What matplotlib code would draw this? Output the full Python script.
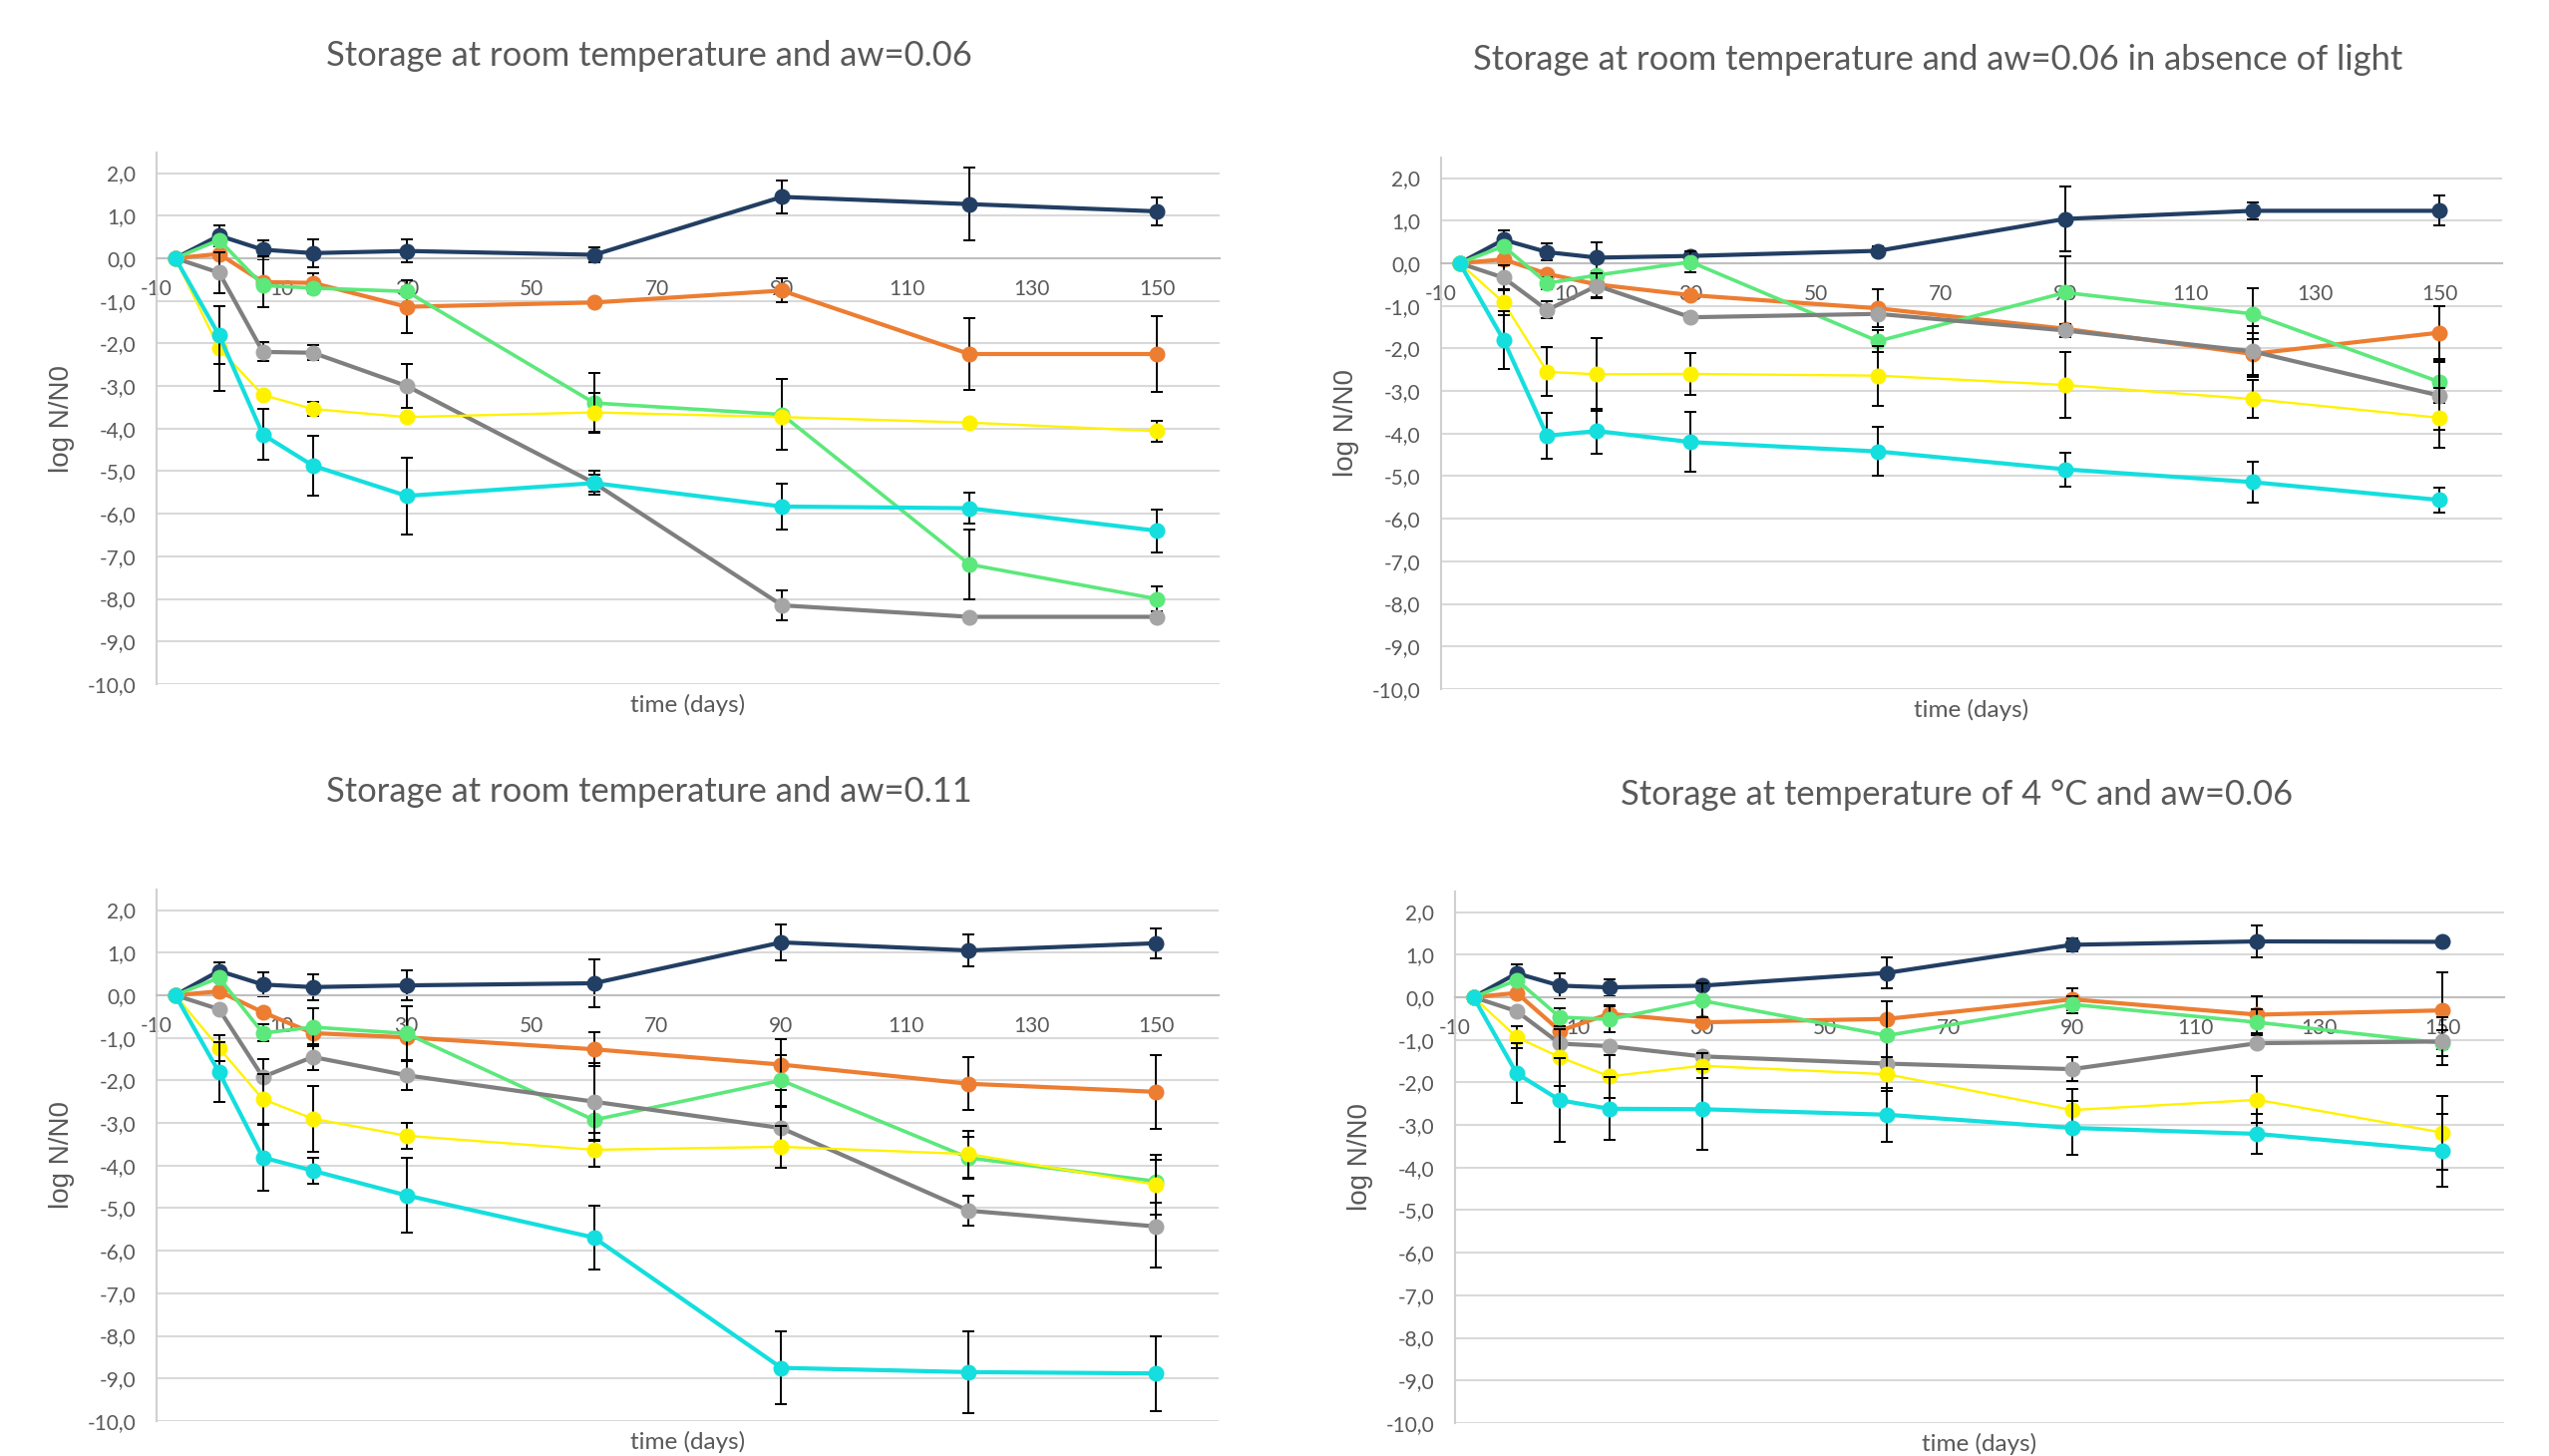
import numpy as np
import matplotlib.pyplot as plt

plt.rcParams['font.family'] = ['Lato', 'DejaVu Sans']

# sampling days (first point is the reference before storage)
days = [-7, 0, 7, 15, 30, 60, 90, 120, 150]

titles = [
    "Storage at room temperature and aw=0.06",
    "Storage at room temperature and aw=0.06 in absence of light",
    "Storage at room temperature and aw=0.11",
    "Storage at temperature of 4 \u00b0C and aw=0.06",
]

# panel 1: room temperature, aw=0.06
p1_navy = [0, 0.53, 0.20, 0.12, 0.17, 0.08, 1.44, 1.27, 1.10]
p1_navy_err = [0, 0.24, 0.22, 0.33, 0.27, 0.18, 0.38, 0.86, 0.33]
p1_orange = [0, 0.10, -0.56, -0.58, -1.14, -1.04, -0.76, -2.25, -2.25]
p1_orange_err = [0, 0, 0.60, 0.23, 0.62, 0.05, 0.28, 0.85, 0.90]
p1_green = [0, 0.43, -0.64, -0.70, -0.78, -3.40, -3.67, -7.19, -8.00]
p1_green_err = [0, 0, 0, 0, 0, 0.70, 0.83, 0.83, 0.30]
p1_grey = [0, -0.34, -2.20, -2.22, -3.00, -5.28, -8.15, -8.42, -8.42]
p1_grey_err = [0, 0.48, 0.22, 0.17, 0.52, 0.28, 0.35, 0, 0]
p1_yellow = [0, -2.12, -3.21, -3.54, -3.73, -3.62, -3.73, -3.86, -4.06]
p1_yellow_err = [0, 1.00, 0, 0.17, 0, 0.46, 0, 0, 0.24]
p1_cyan = [0, -1.81, -4.14, -4.87, -5.58, -5.28, -5.83, -5.87, -6.40]
p1_cyan_err = [0, 0.68, 0.60, 0.70, 0.90, 0.20, 0.54, 0.37, 0.50]

# panel 2: room temperature, aw=0.06, dark
p2_navy = [0, 0.55, 0.26, 0.13, 0.17, 0.29, 1.04, 1.23, 1.23]
p2_navy_err = [0, 0.23, 0.20, 0.35, 0.10, 0.10, 0.77, 0.20, 0.35]
p2_orange = [0, 0.09, -0.25, -0.50, -0.75, -1.06, -1.54, -2.13, -1.63]
p2_orange_err = [0, 0, 0, 0.30, 0, 0.45, 0, 0.50, 0.62]
p2_green = [0, 0.40, -0.47, -0.28, 0.03, -1.83, -0.69, -1.19, -2.79]
p2_green_err = [0, 0, 0.15, 0, 0.25, 0.25, 0.85, 0.60, 0.50]
p2_grey = [0, -0.34, -1.10, -0.53, -1.27, -1.19, -1.58, -2.07, -3.11]
p2_grey_err = [0, 0.30, 0.20, 0.30, 0.10, 0, 0.15, 0.60, 0.80]
p2_yellow = [0, -0.92, -2.55, -2.61, -2.60, -2.64, -2.86, -3.19, -3.63]
p2_yellow_err = [0, 0.30, 0.57, 0.85, 0.50, 0.70, 0.78, 0.45, 0.70]
p2_cyan = [0, -1.80, -4.05, -3.94, -4.20, -4.42, -4.84, -5.14, -5.56]
p2_cyan_err = [0, 0.68, 0.53, 0.53, 0.70, 0.57, 0.40, 0.48, 0.30]

# panel 3: room temperature, aw=0.11
p3_navy = [0, 0.57, 0.25, 0.19, 0.23, 0.28, 1.24, 1.05, 1.22]
p3_navy_err = [0, 0.20, 0.28, 0.30, 0.35, 0.56, 0.43, 0.37, 0.35]
p3_orange = [0, 0.09, -0.40, -0.89, -0.99, -1.27, -1.63, -2.08, -2.27]
p3_orange_err = [0, 0, 0, 0, 0, 0.40, 0.60, 0.62, 0.86]
p3_green = [0, 0.41, -0.89, -0.75, -0.90, -2.93, -2.00, -3.82, -4.37]
p3_green_err = [0, 0, 0.20, 0.45, 0.65, 0.50, 0.60, 0.50, 0.50]
p3_grey = [0, -0.33, -1.92, -1.45, -1.88, -2.50, -3.12, -5.06, -5.43]
p3_grey_err = [0, 0, 0.43, 0.30, 0.35, 0.90, 0.50, 0.35, 0.97]
p3_yellow = [0, -1.24, -2.44, -2.90, -3.30, -3.63, -3.56, -3.73, -4.45]
p3_yellow_err = [0, 0.30, 0.60, 0.77, 0.30, 0.40, 0.50, 0.55, 0.70]
p3_cyan = [0, -1.81, -3.81, -4.12, -4.70, -5.69, -8.75, -8.85, -8.88]
p3_cyan_err = [0, 0.70, 0.78, 0.30, 0.88, 0.75, 0.85, 0.96, 0.88]

# panel 4: 4 degC, aw=0.06
p4_navy = [0, 0.56, 0.27, 0.23, 0.27, 0.57, 1.23, 1.31, 1.30]
p4_navy_err = [0, 0.20, 0.30, 0.20, 0.10, 0.36, 0.15, 0.37, 0.05]
p4_orange = [0, 0.10, -0.79, -0.39, -0.59, -0.51, -0.05, -0.41, -0.31]
p4_orange_err = [0, 0, 0, 0.20, 0, 0, 0.25, 0.43, 0.90]
p4_green = [0, 0.40, -0.47, -0.52, -0.08, -0.90, -0.17, -0.59, -1.08]
p4_green_err = [0, 0, 0.20, 0.30, 0.40, 0.80, 0.20, 0.30, 0.30]
p4_grey = [0, -0.33, -1.09, -1.15, -1.39, -1.56, -1.69, -1.08, -1.04]
p4_grey_err = [0, 0, 0, 0, 0, 0, 0.28, 0, 0.56]
p4_yellow = [0, -0.94, -1.41, -1.86, -1.61, -1.81, -2.65, -2.41, -3.18]
p4_yellow_err = [0, 0.25, 0.67, 0.50, 0.30, 0.40, 0.50, 0.55, 0.87]
p4_cyan = [0, -1.79, -2.42, -2.62, -2.63, -2.76, -3.07, -3.21, -3.60]
p4_cyan_err = [0, 0.70, 0.98, 0.74, 0.95, 0.63, 0.64, 0.46, 0.85]

panels = [
    [(p1_navy, p1_navy_err), (p1_orange, p1_orange_err), (p1_green, p1_green_err),
     (p1_grey, p1_grey_err), (p1_yellow, p1_yellow_err), (p1_cyan, p1_cyan_err)],
    [(p2_navy, p2_navy_err), (p2_orange, p2_orange_err), (p2_green, p2_green_err),
     (p2_grey, p2_grey_err), (p2_yellow, p2_yellow_err), (p2_cyan, p2_cyan_err)],
    [(p3_navy, p3_navy_err), (p3_orange, p3_orange_err), (p3_green, p3_green_err),
     (p3_grey, p3_grey_err), (p3_yellow, p3_yellow_err), (p3_cyan, p3_cyan_err)],
    [(p4_navy, p4_navy_err), (p4_orange, p4_orange_err), (p4_green, p4_green_err),
     (p4_grey, p4_grey_err), (p4_yellow, p4_yellow_err), (p4_cyan, p4_cyan_err)],
]

# style per series: line colour, marker colour, line width
line_colors = ['#223E63', '#ED7D31', '#5CE87B', '#7F7F7F', '#FFF200', '#14DEDE']
marker_colors = ['#223E63', '#ED7D31', '#5CE87B', '#A5A5A5', '#FFF200', '#14DEDE']
line_widths = [3.0, 3.0, 2.6, 3.0, 1.7, 3.0]

W, H = 2556, 1460
# axes boxes in pixels: left, right, top, bottom
boxes = [(157, 1223, 153, 686), (1445, 2509, 158, 691),
         (157, 1222, 892, 1425), (1459, 2511, 894, 1427)]
title_pos = [(651, 56), (1943, 60), (651, 794), (1962, 797)]

fig = plt.figure(figsize=(W / 100, H / 100), dpi=100)
grey_txt = '#595959'

for k, (x0, x1, y0, y1) in enumerate(boxes):
    ax = fig.add_axes([x0 / W, 1 - y1 / H, (x1 - x0) / W, (y1 - y0) / H])
    ax.set_xlim(-10, 160)
    ax.set_ylim(-10, 2.48)

    yt = np.arange(-10, 3, 1)
    ax.set_yticks(yt)
    ax.set_yticklabels([f"{v:.1f}".replace('.', ',') for v in yt])
    xt = np.arange(-10, 151, 20)
    ax.set_xticks(xt)
    ax.set_xticklabels([str(v) for v in xt])

    ax.grid(axis='y', color='#D9D9D9', lw=1.5, zorder=0)
    ax.set_axisbelow(True)
    ax.spines['top'].set_visible(False)
    ax.spines['right'].set_visible(False)
    ax.spines['left'].set_color('#D0D0D0')
    ax.spines['left'].set_linewidth(1.5)
    ax.spines['bottom'].set_position(('data', 0))
    ax.spines['bottom'].set_color('#BFBFBF')
    ax.spines['bottom'].set_linewidth(1.5)
    ax.tick_params(length=0, labelsize=15, labelcolor=grey_txt)
    ax.tick_params(axis='x', pad=15)
    ax.tick_params(axis='y', pad=15)

    for i, (vals, err) in enumerate(panels[k]):
        x = np.array(days)
        y = np.array(vals)
        e = np.array(err)
        z = 3 + i
        m = e > 0
        ax.errorbar(x[m], y[m], yerr=e[m], fmt='none', ecolor='black',
                    elinewidth=1.4, capsize=4, capthick=1.4, zorder=z - 0.5)
        ax.plot(x, y, color=line_colors[i], lw=line_widths[i], marker='o', ms=10.5,
                mfc=marker_colors[i], mec=marker_colors[i], zorder=z, clip_on=False)

    ax.text(0.5, -21 / (y1 - y0), "time (days)", transform=ax.transAxes,
            ha='center', va='center', fontsize=17.5, color=grey_txt)
    ax.text(-95 / (x1 - x0), 0.5, "log N/N0", transform=ax.transAxes, rotation=90,
            ha='center', va='center', fontsize=20, color=grey_txt,
            family='Liberation Sans')

    tx, ty = title_pos[k]
    fig.text(tx / W, 1 - ty / H, titles[k], ha='center', va='center',
             fontsize=24.8, color=grey_txt)

fig.savefig('out.png', dpi=100, facecolor='white')
